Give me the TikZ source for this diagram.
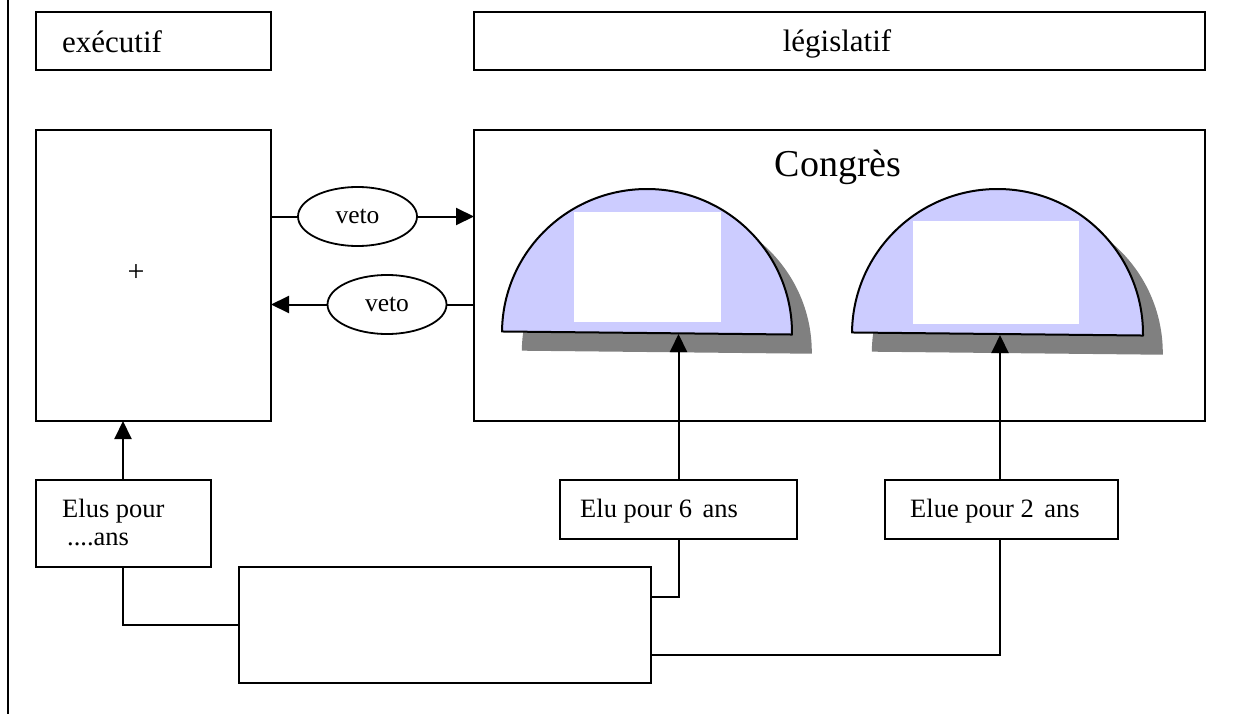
\documentclass[tikz,border=0pt]{standalone}
\usepackage{fontspec}
\setmainfont{Liberation Serif}
\usetikzlibrary{shapes.geometric,arrows.meta,calc}
\definecolor{domeblue}{HTML}{CCCCFF}
\definecolor{shadowgray}{HTML}{808080}
\begin{document}
\begin{tikzpicture}[x=1pt,y=-1pt,
  box/.style={draw,line width=2.4pt,anchor=north west,outer sep=0pt,inner sep=0pt},
  seat/.style={fill=white,anchor=north west,outer sep=0pt,inner sep=0pt},
  vetobox/.style={draw,ellipse,line width=1.8pt,inner sep=0pt,
    minimum width=119pt,minimum height=59pt,font=\fontsize{25.5}{28}\selectfont},
  lbl/.style={inner sep=0pt,anchor=base west,font=\fontsize{#1}{#1}\selectfont},
  link/.style={line width=2pt},
  arr/.style={line width=2pt,-{Triangle[length=18pt,width=17pt]}},
  dome/.style={fill=domeblue,draw=black,line width=2pt,line join=round},
  shade/.style={fill=shadowgray}]
\useasboundingbox (0,0) rectangle (1246,714);

% page rule on the left
\draw[line width=2.4pt] (8,0) -- (8,714);

% headers
\node[box,minimum width=235pt,minimum height=58pt] (exec) at (36,12) {};
\node[box,minimum width=731pt,minimum height=58pt] (legis) at (474,12) {};
\node[lbl=31] (execT) at (62,53) {exécutif};
\node[inner sep=0pt,anchor=base,font=\fontsize{31}{31}\selectfont] (legisT) at (837,52) {législatif};

% main boxes
\node[box,minimum width=235pt,minimum height=291pt] (pres) at (36,130) {};
\node[box,minimum width=731pt,minimum height=291pt] (cong) at (474,130) {};
\node[inner sep=0pt,anchor=base,font=\fontsize{38}{38}\selectfont] (congT) at (838,177) {Congrès};
\node[inner sep=0pt,font=\fontsize{30}{30}\selectfont] (plus) at (136,273) {+};

% the two chambers
\begin{scope}[rotate around={-0.6:(647,333)}]
  \fill[shade] (522,352) arc[start angle=180,end angle=0,x radius=145pt,y radius=144pt] -- cycle;
  \draw[dome] (502,333) arc[start angle=180,end angle=0,x radius=145pt,y radius=144pt] -- cycle;
\end{scope}
\begin{scope}[rotate around={-0.6:(997.5,334)}]
  \fill[shade] (872,353) arc[start angle=180,end angle=0,x radius=145.5pt,y radius=145pt] -- cycle;
  \draw[dome] (852,334) arc[start angle=180,end angle=0,x radius=145.5pt,y radius=145pt] -- cycle;
\end{scope}
\node[seat,minimum width=147pt,minimum height=110pt] (senat) at (574,212) {};
\node[seat,minimum width=166pt,minimum height=103pt] (chambre) at (913,221) {};
\coordinate (senatBase) at (647,334);
\coordinate (chambreBase) at (997,335);

% veto links
\node[vetobox] (veto1) at (357.5,216.5) {veto};
\node[vetobox] (veto2) at (387,304.5) {veto};
\draw[link] (pres.east |- veto1) -- (veto1.west);
\draw[arr] (veto1.east) -- (cong.west |- veto1);
\draw[link] (cong.west |- veto2) -- (veto2.east);
\draw[arr] (veto2.west) -- (pres.east |- veto2);

% elections
\node[box,minimum width=175pt,minimum height=87pt] (elus) at (36,480) {};
\node[lbl=26.5] (elusT1) at (62,517) {Elus pour};
\node[lbl=26.5] (elusT2) at (67,545) {....ans};
\node[box,minimum width=237pt,minimum height=59pt] (six) at (560,480) {};
\node[lbl=26.5] (sixT) at (580,517) {Elu pour 6\hspace{0.15em} ans};
\node[box,minimum width=233pt,minimum height=59pt] (deux) at (885,480) {};
\node[lbl=26.5] (deuxT) at (910,517) {Elue pour 2\hspace{0.15em} ans};
\node[box,minimum width=412pt,minimum height=116pt] (peuple) at (239,567) {};

\draw[arr] ([xshift=-0.5pt]elus.north) -- ([xshift=-0.5pt]elus.north |- pres.south);
\draw[arr] (six.north) -- (six.north |- senatBase);
\draw[arr] ([xshift=-1.5pt]deux.north) -- ([xshift=-1.5pt]deux.north |- chambreBase);

\draw[link] ([xshift=-0.5pt]elus.south) |- (peuple.west);
\draw[link] (six.south) |- ($(peuple.north east)!0.26!(peuple.south east)$);
\draw[link] ([xshift=-1.5pt]deux.south) |- ($(peuple.north east)!0.76!(peuple.south east)$);
\end{tikzpicture}
\end{document}
